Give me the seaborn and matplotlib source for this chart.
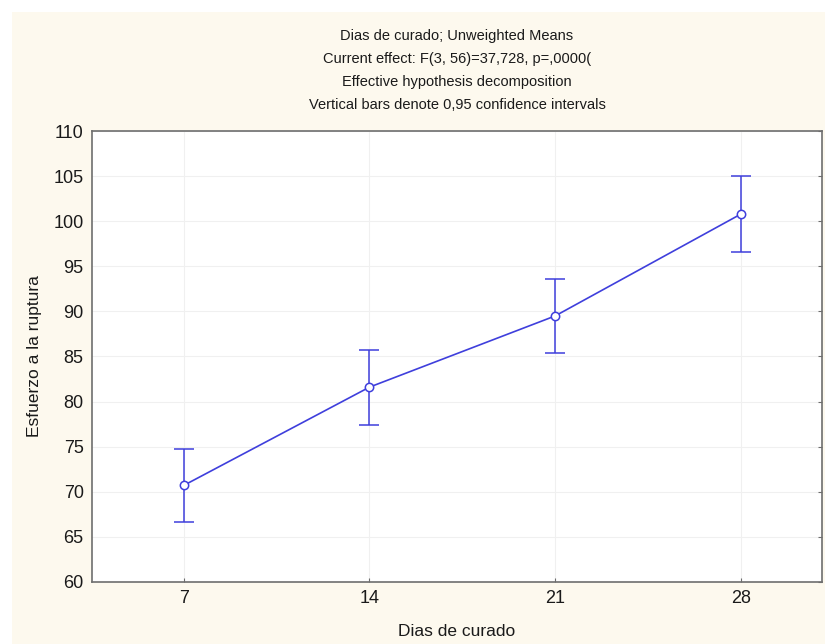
import matplotlib

matplotlib.use("Agg")
import matplotlib.pyplot as plt
import pandas as pd
import seaborn as sns
from matplotlib.patches import Rectangle

# values
dias = [7, 14, 21, 28]
media = [70.7, 81.6, 89.5, 100.8]
ci_low = [66.6, 77.4, 85.4, 96.6]
ci_high = [74.8, 85.7, 93.6, 105.0]

title_lines = [
    "Dias de curado; Unweighted Means",
    "Current effect: F(3, 56)=37,728, p=,0000(",
    "Effective hypothesis decomposition",
    "Vertical bars denote 0,95 confidence intervals",
]

LINE_COLOR = "#3f3fdc"
CREAM = "#fdf9ee"


def main() -> None:
    sns.set_theme(style="white")
    plt.rcParams["font.family"] = ["Liberation Sans", "DejaVu Sans"]

    df = pd.DataFrame({"dias": dias, "media": media, "low": ci_low, "high": ci_high})

    fig = plt.figure(figsize=(8.25, 6.44), dpi=100)
    fig.patch.set_facecolor("white")
    fig.patches.append(
        Rectangle((12 / 825, 0), 1, 1 - 12 / 644, transform=fig.transFigure,
                  facecolor=CREAM, edgecolor="none", zorder=-10)
    )
    ax = fig.add_axes([92 / 825, 1 - 582 / 644, 730 / 825, 451 / 644])
    ax.set_facecolor("white")

    yerr = [df["media"] - df["low"], df["high"] - df["media"]]
    ax.errorbar(df["dias"], df["media"], yerr=yerr, fmt="none", ecolor=LINE_COLOR,
                elinewidth=1.1, capsize=7, capthick=1.1, zorder=2)
    sns.lineplot(data=df, x="dias", y="media", ax=ax, color=LINE_COLOR, linewidth=1.2,
                 marker="o", markersize=6, markerfacecolor="white",
                 markeredgecolor=LINE_COLOR, markeredgewidth=1.1, zorder=3)

    ax.set_xlim(3.55, 31.05)
    ax.set_ylim(60, 110)
    ax.set_xticks(dias)
    ax.set_yticks(range(60, 111, 5))
    ax.grid(True, color="#f0f0f0", linewidth=0.8)
    ax.set_axisbelow(True)

    for spine in ax.spines.values():
        spine.set_color("#6e6e6e")
        spine.set_linewidth(1.2)

    ax.tick_params(axis="both", direction="in", length=3, width=0.8, colors="#6e6e6e",
                   labelcolor="#1a1a1a", labelsize=13, pad=6)
    ax.tick_params(axis="y", right=True)
    ax.tick_params(axis="x", bottom=True, pad=6)

    ax.set_xlabel("Dias de curado", fontsize=12.5, color="#1a1a1a")
    ax.set_ylabel("Esfuerzo a la ruptura", fontsize=12.5, color="#1a1a1a")
    ax.xaxis.set_label_coords(0.5, -(632 - 582) / 451)
    ax.yaxis.set_label_coords(-(92 - 35) / 730, 0.5)
    ax.xaxis.label.set_va("center")
    ax.yaxis.label.set_va("center")

    for i, line in enumerate(title_lines):
        fig.text(0.5 * (92 + 822) / 825, 1 - (36 + 23 * i) / 644, line,
                 ha="center", va="center", fontsize=10.5, color="#1a1a1a")

    fig.savefig("out.png", dpi=100, facecolor=fig.get_facecolor())
    plt.close(fig)


if __name__ == "__main__":
    main()
